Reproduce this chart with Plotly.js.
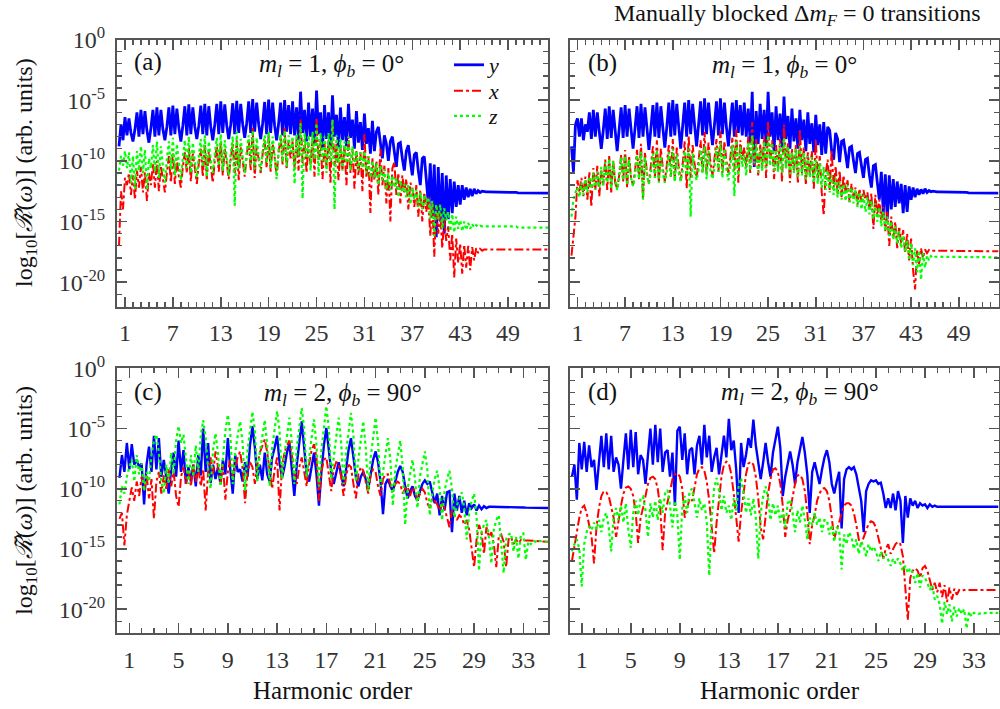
<!DOCTYPE html>
<html>
<head>
<meta charset="utf-8">
<script src="https://cdn.plot.ly/plotly-3.0.1.min.js"></script>
<style>html,body{margin:0;padding:0;background:#fff;}#chart{width:1000px;height:709px;}</style>
</head>
<body>
<div id="chart"></div>
<script>
// Harmonic-order grids (start, step) for the two panel rows
const HARM_TOP_START = 0.25, HARM_TOP_STEP = 0.25;   // panels (a), (b)
const HARM_BOT_START = 0.2,  HARM_BOT_STEP = 0.2;    // panels (c), (d)

// Values are log10 of the spectrum
// Panel (a)
const a_y = [
-8.8,-7.0,-8.3,-6.4,-7.9,-6.5,-7.7,-8.4,
-7.4,-6.0,-8.0,-5.8,-7.8,-5.9,-7.5,-8.5,
-7.3,-5.8,-8.0,-5.6,-7.9,-5.8,-7.4,-8.3,
-7.2,-5.6,-7.9,-5.45,-7.8,-5.7,-7.3,-8.4,
-7.1,-5.5,-7.9,-5.35,-7.8,-5.6,-7.2,-8.2,
-7.1,-5.45,-7.8,-5.3,-7.9,-5.5,-7.2,-8.3,
-7.0,-5.3,-7.8,-5.1,-7.7,-5.35,-7.1,-8.2,
-7.0,-5.25,-7.8,-5.05,-7.7,-5.3,-7.0,-8.1,
-6.9,-5.1,-7.7,-4.9,-7.6,-5.2,-7.0,-8.2,
-6.9,-5.15,-7.8,-4.95,-7.7,-5.2,-7.1,-8.3,
-6.9,-5.2,-7.9,-5.0,-7.6,-5.4,-7.8,-5.1,
-7.9,-5.6,-8.3,-4.3,-7.7,-5.8,-8.4,-5.2,
-8.0,-5.7,-8.6,-4.2,-7.8,-6.0,-9.0,-5.4,
-8.2,-6.0,-8.8,-4.6,-8.0,-6.2,-8.9,-5.6,
-8.3,-6.4,-8.8,-5.3,-8.1,-6.6,-9.0,-5.9,
-8.5,-6.8,-9.1,-6.1,-8.6,-7.3,-9.4,-6.7,
-9.2,-7.6,-7.2,-8.8,-9.8,-7.9,-8.6,-10.0,
-8.4,-8.0,-9.2,-10.5,-8.6,-8.5,-9.8,-10.8,
-9.2,-8.7,-10.0,-11.2,-9.5,-9.3,-10.8,-12.0,
-9.8,-9.65,-11.5,-13.5,-10.2,-14.6,-10.3,-16.3,
-10.5,-15.0,-11.0,-16.0,-11.2,-14.8,-11.5,-14.3,
-11.7,-13.8,-12.0,-13.6,-12.0,-13.2,-12.2,-13.0,
-12.3,-12.9,-12.3,-12.7,-12.45,-12.6,-12.5,-12.55,
-12.56,-12.56,-12.56,-12.56,-12.56,-12.56,-12.56,-12.56,
-12.6,-12.6,-12.6,-12.6,-12.6,-12.6,-12.6,-12.6,
-12.63,-12.63,-12.63,-12.63,-12.63,-12.63,-12.63,-12.63,
-12.66,-12.66,-12.66,-12.66,-12.66,-12.66,-12.66,-12.66
];
const a_x = [
-17.0,-12.5,-14.0,-11.4,-12.0,-11.0,-12.8,-11.2,
-13.2,-10.8,-12.2,-10.5,-12.6,-10.9,-13.3,-11.0,
-12.0,-10.2,-12.2,-10.0,-12.5,-10.4,-11.5,-12.6,
-11.0,-9.6,-11.8,-9.3,-11.9,-9.8,-11.3,-12.2,
-10.5,-9.3,-11.0,-8.9,-11.7,-9.4,-10.6,-11.9,
-10.2,-9.0,-11.3,-8.7,-11.5,-9.2,-10.4,-11.8,
-10.0,-8.8,-10.9,-8.5,-11.2,-9.0,-10.2,-11.5,
-9.8,-8.6,-11.0,-8.3,-11.6,-8.9,-10.0,-11.3,
-9.6,-8.2,-10.8,-7.3,-11.4,-8.7,-9.9,-11.0,
-9.4,-8.3,-10.6,-7.9,-10.9,-8.6,-9.7,-11.2,
-9.3,-8.0,-10.3,-7.2,-10.7,-8.4,-9.8,-8.4,
-10.6,-8.2,-10.8,-6.6,-10.2,-8.3,-11.0,-8.5,
-10.4,-8.1,-11.3,-6.5,-10.0,-8.4,-11.5,-8.6,
-10.5,-8.3,-11.8,-6.6,-10.4,-8.6,-11.6,-8.9,
-10.8,-8.8,-12.0,-8.0,-11.0,-9.0,-12.3,-9.2,
-11.2,-9.3,-12.5,-7.8,-11.4,-9.6,-14.3,-9.8,
-11.6,-10.0,-12.8,-9.0,-12.0,-10.4,-13.5,-10.6,
-15.0,-10.6,-10.1,-12.8,-11.0,-13.5,-11.2,-12.6,
-11.5,-14.0,-11.8,-12.2,-13.8,-12.0,-14.6,-12.4,
-15.0,-12.6,-14.2,-13.0,-16.2,-13.3,-17.9,-13.8,
-16.0,-14.2,-17.2,-14.8,-16.6,-15.4,-18.2,-16.0,
-19.6,-16.4,-18.4,-16.8,-19.3,-16.9,-18.8,-17.0,
-19.0,-17.1,-18.2,-17.2,-17.6,-17.25,-17.4,-17.3,
-17.3,-17.3,-17.3,-17.3,-17.3,-17.3,-17.3,-17.3,
-17.3,-17.3,-17.3,-17.3,-17.3,-17.3,-17.3,-17.3,
-17.3,-17.3,-17.3,-17.3,-17.3,-17.3,-17.3,-17.3,
-17.3,-17.3,-17.3,-17.3,-17.3,-17.3,-17.3,-17.3
];
const a_z = [
-10.8,-9.6,-10.4,-9.2,-10.6,-9.3,-11.8,-9.6,
-12.3,-9.2,-10.8,-8.8,-11.0,-9.1,-12.4,-9.8,
-10.6,-8.7,-10.9,-8.4,-11.4,-8.8,-10.4,-11.8,
-9.9,-8.4,-10.7,-8.1,-11.2,-8.6,-10.2,-11.6,
-9.7,-8.3,-10.6,-8.0,-11.0,-8.5,-10.0,-11.4,
-9.6,-8.2,-10.5,-7.9,-11.3,-8.4,-9.9,-11.0,
-9.5,-8.1,-10.4,-7.8,-10.8,-8.3,-9.8,-11.2,
-9.4,-8.0,-13.7,-7.6,-10.6,-8.2,-9.7,-11.0,
-9.3,-7.9,-10.3,-7.5,-10.7,-8.1,-9.6,-10.8,
-9.2,-7.9,-10.2,-7.6,-10.6,-8.0,-9.5,-11.5,
-9.1,-7.8,-10.1,-7.5,-10.5,-7.9,-9.3,-8.0,
-11.9,-7.8,-9.6,-6.9,-13.1,-7.7,-9.8,-7.9,
-10.8,-7.6,-9.9,-6.9,-11.2,-7.7,-10.0,-8.0,
-11.0,-7.7,-10.1,-6.6,-14.0,-7.9,-10.2,-8.2,
-10.8,-8.4,-10.2,-8.0,-10.8,-8.8,-10.2,-9.2,
-10.8,-9.3,-10.6,-9.2,-11.0,-9.6,-11.4,-10.0,
-11.4,-10.2,-12.0,-10.4,-11.6,-10.7,-12.4,-11.0,
-12.4,-11.2,-12.2,-11.4,-13.0,-11.6,-12.6,-11.9,
-13.0,-12.0,-13.6,-12.2,-13.2,-12.4,-13.8,-12.6,
-14.0,-12.8,-13.6,-13.0,-14.8,-13.3,-16.2,-13.6,
-14.8,-13.6,-15.6,-13.9,-14.9,-14.2,-15.8,-14.4,
-15.9,-14.6,-15.6,-14.9,-15.8,-15.0,-15.7,-15.1,
-15.6,-15.2,-15.5,-15.3,-15.45,-15.35,-15.4,-15.4,
-15.4,-15.4,-15.4,-15.4,-15.4,-15.4,-15.4,-15.4,
-15.4,-15.4,-15.4,-15.4,-15.4,-15.4,-15.4,-15.4,
-15.5,-15.5,-15.5,-15.5,-15.5,-15.5,-15.5,-15.5,
-15.5,-15.5,-15.5,-15.5,-15.5,-15.5,-15.5,-15.5
];
// Panel (b)
const b_y = [
-8.8,-10.9,-7.0,-6.5,-8.0,-6.5,-8.3,-7.0,
-7.6,-6.0,-8.2,-5.8,-8.0,-6.0,-7.6,-9.0,
-7.5,-5.7,-8.2,-5.5,-8.1,-5.8,-7.5,-9.2,
-7.4,-5.6,-8.1,-5.4,-8.0,-5.7,-7.4,-9.0,
-7.3,-5.5,-8.1,-5.3,-8.0,-5.6,-7.3,-9.1,
-7.3,-5.4,-8.0,-5.2,-8.1,-5.5,-7.3,-8.9,
-7.2,-5.2,-8.0,-5.0,-7.9,-5.3,-7.2,-9.0,
-7.1,-5.2,-8.0,-5.0,-7.8,-5.3,-7.1,-8.8,
-7.0,-5.1,-7.9,-4.85,-7.8,-5.2,-7.1,-8.7,
-7.0,-5.1,-7.9,-4.85,-7.8,-5.2,-7.2,-8.8,
-7.0,-5.2,-8.0,-5.0,-7.7,-5.4,-7.9,-5.2,
-8.0,-5.7,-8.5,-4.3,-10.5,-5.9,-8.6,-5.3,
-8.2,-5.8,-8.8,-4.3,-8.0,-6.0,-9.2,-5.5,
-8.3,-6.1,-8.9,-4.7,-8.2,-6.3,-9.0,-5.7,
-8.4,-6.5,-9.0,-5.8,-8.3,-6.6,-9.2,-6.0,
-8.6,-6.9,-9.3,-6.2,-8.7,-7.0,-9.5,-6.8,
-9.4,-7.2,-7.5,-9.2,-9.9,-7.7,-8.2,-10.1,
-8.4,-8.3,-9.4,-10.6,-8.9,-8.8,-10.0,-11.0,
-9.4,-9.3,-10.4,-11.4,-9.9,-9.8,-11.2,-12.2,
-10.4,-10.3,-11.8,-13.2,-10.9,-14.3,-11.1,-14.8,
-11.2,-14.0,-11.5,-13.8,-11.7,-13.5,-11.9,-14.3,
-12.0,-14.2,-12.1,-13.2,-12.2,-13.0,-12.3,-12.8,
-12.35,-12.7,-12.3,-12.6,-12.45,-12.55,-12.5,-12.55,
-12.56,-12.56,-12.56,-12.56,-12.56,-12.56,-12.56,-12.56,
-12.6,-12.6,-12.6,-12.6,-12.6,-12.6,-12.6,-12.6,
-12.63,-12.63,-12.63,-12.63,-12.63,-12.63,-12.63,-12.63,
-12.66,-12.66,-12.66,-12.66,-12.66,-12.66,-12.66,-12.66
];
const b_x = [
-17.8,-16.0,-14.6,-11.6,-12.6,-11.4,-12.9,-11.3,
-13.2,-10.9,-13.8,-10.6,-12.4,-10.4,-12.9,-10.8,
-12.0,-9.9,-12.4,-9.6,-12.6,-10.0,-11.8,-12.3,
-11.2,-9.5,-11.7,-9.1,-12.2,-9.6,-11.4,-12.0,
-10.8,-9.1,-11.5,-8.6,-13.2,-9.3,-11.0,-11.9,
-10.5,-8.8,-11.4,-8.3,-11.8,-9.0,-10.6,-11.7,
-10.3,-8.7,-11.3,-8.2,-11.6,-8.9,-10.5,-11.6,
-10.2,-8.4,-12.3,-7.9,-11.4,-8.7,-10.3,-11.4,
-10.0,-8.3,-11.0,-7.6,-11.2,-8.5,-10.2,-11.2,
-9.8,-8.2,-10.9,-7.5,-11.0,-8.4,-10.0,-11.0,
-9.7,-8.1,-10.8,-7.4,-11.8,-8.3,-9.9,-8.9,
-10.6,-8.0,-11.0,-6.8,-10.4,-8.2,-11.2,-8.6,
-10.6,-8.0,-11.4,-6.8,-10.2,-8.3,-11.5,-8.7,
-10.7,-8.2,-11.7,-7.0,-10.6,-8.5,-11.8,-9.0,
-10.9,-8.7,-11.9,-7.4,-11.0,-8.9,-12.0,-9.3,
-11.2,-9.2,-12.3,-8.3,-11.5,-9.6,-12.6,-14.5,
-11.0,-9.9,-12.4,-9.1,-12.2,-10.4,-12.8,-10.8,
-13.0,-11.2,-12.6,-11.6,-13.4,-11.9,-13.0,-12.2,
-13.6,-12.3,-13.4,-12.4,-13.2,-12.6,-14.0,-12.7,
-15.6,-12.8,-14.5,-13.2,-15.0,-13.8,-15.8,-14.2,
-17.0,-14.6,-16.4,-15.0,-17.2,-15.4,-16.8,-15.7,
-17.6,-16.0,-18.2,-16.4,-19.0,-20.6,-17.4,-18.5,
-17.2,-18.0,-17.3,-17.6,-17.35,-17.45,-17.4,-17.4,
-17.4,-17.4,-17.4,-17.4,-17.4,-17.4,-17.4,-17.4,
-17.4,-17.4,-17.4,-17.4,-17.4,-17.4,-17.4,-17.4,
-17.45,-17.45,-17.45,-17.45,-17.45,-17.45,-17.45,-17.45,
-17.45,-17.45,-17.45,-17.45,-17.45,-17.45,-17.45,-17.45
];
const b_z = [
-14.6,-13.2,-12.6,-12.2,-13.0,-11.8,-12.8,-11.5,
-12.6,-11.3,-12.3,-11.0,-12.4,-10.9,-12.2,-10.5,
-12.0,-10.1,-11.8,-9.8,-12.3,-10.0,-11.6,-12.4,
-11.4,-9.7,-11.6,-9.6,-12.0,-9.9,-11.4,-12.1,
-11.2,-9.5,-11.5,-9.25,-13.2,-9.7,-11.2,-11.9,
-11.0,-9.4,-11.4,-9.1,-11.8,-9.6,-11.1,-11.8,
-10.9,-9.3,-11.3,-9.0,-11.7,-9.5,-11.0,-11.7,
-10.8,-9.2,-11.2,-9.0,-14.6,-9.4,-10.9,-11.6,
-10.7,-9.1,-11.0,-8.8,-11.5,-9.2,-10.8,-11.5,
-10.5,-8.9,-10.9,-8.5,-11.4,-9.0,-10.7,-11.6,
-10.4,-8.7,-12.9,-8.3,-11.2,-8.8,-10.5,-9.5,
-11.2,-8.5,-10.8,-7.9,-10.2,-8.6,-11.0,-9.0,
-10.8,-8.4,-10.6,-7.9,-10.4,-8.5,-10.8,-9.1,
-10.9,-8.6,-11.0,-8.1,-10.6,-8.8,-11.1,-9.3,
-11.0,-9.0,-11.3,-8.8,-11.2,-9.3,-11.5,-9.6,
-11.4,-9.7,-11.8,-9.9,-11.9,-10.2,-12.2,-10.5,
-12.4,-10.8,-12.6,-11.2,-12.8,-11.4,-13.0,-11.7,
-13.2,-11.9,-13.3,-12.0,-13.4,-12.2,-13.5,-12.4,
-13.8,-12.6,-14.0,-12.8,-14.2,-13.0,-14.4,-13.3,
-14.8,-13.5,-15.0,-13.8,-15.4,-14.2,-15.8,-14.6,
-16.2,-15.0,-16.5,-15.4,-16.8,-15.8,-17.2,-16.2,
-17.5,-16.6,-18.2,-16.8,-18.6,-17.2,-19.2,-17.4,
-19.8,-17.6,-18.8,-17.8,-18.2,-17.85,-18.0,-17.9,
-17.9,-17.9,-17.9,-17.9,-17.9,-17.9,-17.9,-17.9,
-17.9,-17.9,-17.9,-17.9,-17.9,-17.9,-17.9,-17.9,
-17.95,-17.95,-17.95,-17.95,-17.95,-17.95,-17.95,-17.95,
-17.95,-17.95,-17.95,-17.95,-17.95,-17.95,-17.95,-17.95
];
// Panel (c)
const c_y = [
-9.1,-7.2,-8.6,-6.2,-8.4,  -6.3,-8.0,-7.6,-8.2,-7.9,
-11.3,-8.0,-6.5,-8.6,-5.6, -8.4,-5.8,-9.0,-7.6,-9.2,
-10.4,-8.4,-7.0,-9.0,-6.0, -8.6,-6.8,-9.6,-8.2,-9.4,
-8.0,-9.8,-7.2,-8.9,-5.0,  -8.6,-6.2,-9.5,-8.0,-9.2,
-8.2,-9.6,-7.6,-8.8,-5.8,  -8.4,-10.4,-7.2,-8.6,-8.4,
-9.4,-7.8,-9.0,-6.4,-4.8,  -6.6,-9.2,-8.0,-9.3,-7.0,
-8.8,-9.4,-7.4,-6.6,-5.6,  -7.8,-9.1,-8.2,-7.0,-6.2,
-8.4,-10.6,-8.0,-6.4,-4.4, -6.6,-8.8,-9.4,-8.0,-7.0,
-8.8,-11.4,-8.6,-6.4,-4.95,-6.6,-8.6,-9.6,-8.6,-7.8,
-8.8,-9.8,-8.4,-6.8,-5.8,  -7.2,-9.0,-9.8,-9.0,-8.6,
-9.2,-10.0,-8.8,-7.6,-6.9, -7.8,-9.4,-12.1,-9.6,-9.2,
-9.8,-10.2,-9.4,-8.6,-8.1, -8.6,-9.8,-10.8,-10.2,-9.8,
-10.6,-11.0,-10.2,-9.6,-9.3,-9.6,-9.4,-10.4,-11.2,-10.4,
-12.2,-10.6,-11.8,-10.3,-10.2,-13.6,-10.4,-11.8,-10.6,-12.0,
-11.0,-12.2,-11.2,-11.6,-11.3,-11.8,-11.4,-11.7,-11.45,-11.6,
-11.5,-11.5,-11.5,-11.5,-11.5,-11.52,-11.52,-11.52,-11.52,-11.52,
-11.55,-11.55,-11.55,-11.55,-11.55,-11.57,-11.57,-11.57,-11.57,-11.57,
-11.6,-11.6,-11.6,-11.6,-11.6
];
const c_x = [
-12.5,-12.0,-14.7,-12.2,-11.0, -9.9,-11.0,-9.4,-10.6,-9.0,
-10.2,-8.8,-10.8,-9.2,-12.5,   -9.4,-8.6,-10.4,-8.9,-10.0,
-8.4,-9.8,-8.6,-10.6,-11.5,    -9.0,-8.2,-9.6,-8.4,-9.8,
-8.0,-9.4,-8.2,-9.8,-8.4,      -11.8,-8.6,-7.4,-8.8,-6.9,
-8.2,-9.6,-8.0,-10.9,-8.6,     -7.6,-9.0,-8.2,-7.4,-6.9,
-8.4,-11.2,-8.6,-7.8,-8.2,     -9.6,-8.0,-7.0,-6.4,-5.9,
-7.0,-8.6,-10.0,-8.4,-7.4,     -11.8,-8.2,-7.0,-6.4,-6.0,
-7.2,-8.8,-9.6,-8.2,-7.4,      -8.6,-9.8,-8.0,-6.8,-6.3,
-7.4,-11.0,-8.6,-7.6,-7.4,     -8.8,-10.2,-8.4,-7.8,-7.9,
-9.0,-10.6,-9.0,-8.0,-8.2,     -9.6,-10.8,-8.8,-8.2,-8.5,
-9.4,-10.4,-8.8,-8.4,-8.6,     -9.8,-10.6,-9.2,-8.8,-8.8,
-9.6,-10.2,-9.6,-9.4,-9.6,     -10.4,-10.0,-9.8,-10.6,-9.9,
-10.2,-11.0,-10.4,-10.0,-10.3, -11.2,-11.6,-10.8,-11.0,-11.3,
-11.8,-11.2,-11.6,-12.4,-13.2, -11.8,-12.2,-12.6,-12.2,-12.4,
-13.0,-12.6,-13.4,-15.0,-16.5, -14.2,-13.0,-13.6,-15.4,-13.2,
-14.0,-13.6,-14.6,-16.5,-14.0, -13.8,-14.4,-16.5,-14.2,-14.0,
-14.6,-14.2,-14.5,-14.25,-14.3,
-14.3,-14.3,-14.32,-14.32,-14.35,-14.35,-14.35,-14.38,-14.38,-14.4
];
const c_z = [
-11.3,-9.8,-10.4,-9.0,-8.2,  -7.6,-9.4,-7.2,-8.8,-7.9,
-10.2,-8.6,-9.4,-7.2,-6.0,   -5.5,-7.0,-9.4,-10.4,-8.0,
-9.6,-7.0,-8.8,-6.0,-4.8,    -6.2,-5.5,-7.6,-9.6,-7.2,
-9.0,-6.4,-8.6,-5.6,-4.3,    -5.8,-8.4,-10.0,-6.8,-5.4,
-7.0,-9.8,-7.2,-5.2,-3.85,   -5.4,-9.6,-7.0,-5.6,-4.4,
-6.2,-10.2,-6.8,-5.0,-3.6,   -5.2,-9.4,-7.0,-5.8,-4.3,
-6.4,-9.8,-6.6,-5.0,-3.55,   -5.2,-9.2,-7.2,-5.6,-4.1,
-6.2,-9.6,-6.6,-4.8,-3.3,    -5.0,-9.0,-7.4,-5.8,-4.25,
-6.4,-9.8,-6.8,-4.8,-3.15,   -5.0,-9.2,-7.4,-5.6,-4.1,
-6.2,-9.6,-7.0,-5.4,-3.7,    -5.6,-9.4,-7.6,-6.0,-4.4,
-6.6,-10.2,-7.4,-5.6,-4.1,   -6.2,-9.8,-8.6,-7.0,-5.8,
-7.6,-11.4,-8.4,-7.0,-6.0,   -8.2,-13.0,-10.0,-8.6,-7.6,
-9.2,-11.6,-9.0,-7.8,-6.9,   -8.4,-12.2,-10.4,-9.2,-8.5,
-10.0,-12.6,-10.2,-9.2,-8.5, -10.0,-12.4,-11.4,-10.8,-10.3,
-11.6,-14.2,-12.0,-11.0,-10.4,-12.4,-16.8,-13.6,-13.0,-12.6,
-14.0,-16.2,-13.4,-12.6,-12.2,-14.8,-17.0,-14.2,-13.8,-13.7,
-15.2,-14.0,-15.8,-13.8,-13.7,-15.9,-14.4,-14.6,-14.3,-14.4,
-14.3,-14.35,-14.35,-14.4,-14.4
];
// Panel (d)
const d_y = [
-9.0,-8.0,-10.9,-6.2,-8.4,  -6.1,-8.6,-6.4,-8.2,-7.6,
-10.1,-7.8,-5.6,-8.2,-5.4,  -8.4,-5.6,-8.6,-7.4,-8.0,
-10.0,-7.6,-5.4,-8.4,-5.1,  -8.2,-5.3,-8.8,-7.2,-7.6,
-9.6,-7.2,-5.0,-8.0,-4.7,   -7.8,-5.0,-8.6,-7.0,-6.8,
-9.0,-7.0,-11.4,-5.2,-4.85, -7.6,-5.4,-8.8,-6.8,-6.6,
-8.8,-6.4,-5.6,-8.0,-4.7,   -7.4,-5.6,-8.6,-7.4,-6.6,
-8.8,-7.2,-5.6,-7.4,-4.2,   -6.8,-6.0,-8.4,-12.0,-6.2,
-8.2,-7.2,-5.8,-6.6,-4.25,  -6.4,-8.0,-9.2,-7.8,-6.2,
-7.8,-9.0,-7.0,-6.0,-4.85,  -6.6,-10.6,-9.0,-7.8,-6.9,
-8.0,-9.6,-7.8,-6.6,-5.7,   -7.0,-8.8,-12.0,-8.6,-7.8,
-8.6,-9.6,-8.4,-7.4,-6.8,   -7.8,-9.6,-10.4,-9.4,-8.6,
-13.3,-9.2,-8.4,-8.2,-8.4,  -8.2,-8.8,-10.0,-11.0,-13.6,
-10.2,-9.6,-9.3,-9.4,-9.3,  -9.6,-9.5,-10.4,-11.6,-10.8,
-11.6,-10.4,-11.8,-10.2,-11.0,-14.5,-10.6,-12.4,-10.8,-11.4,
-11.0,-11.6,-11.2,-11.4,-11.3,-11.6,-11.3,-11.5,-11.4,-11.5,
-11.5,-11.5,-11.5,-11.5,-11.5,-11.5,-11.5,-11.5,-11.5,-11.5,
-11.5,-11.5,-11.5,-11.5,-11.5,-11.5,-11.5,-11.5,-11.5,-11.5,
-11.5,-11.5,-11.5,-11.5,-11.5
];
const d_x = [
-16.0,-14.8,-13.6,-12.4,-11.6, -11.4,-12.0,-13.0,-14.0,-16.2,
-13.2,-11.6,-10.6,-10.2,-10.3, -10.6,-11.4,-12.4,-14.0,-12.6,
-11.4,-10.4,-9.9,-9.8,-10.0,   -10.6,-12.0,-14.5,-12.4,-11.6,
-10.6,-9.6,-9.1,-9.0,-9.2,     -10.0,-11.6,-15.1,-12.0,-11.2,
-10.2,-9.2,-8.8,-8.7,-9.0,     -10.0,-12.4,-11.6,-10.8,-11.0,
-10.0,-8.8,-8.3,-8.2,-8.5,     -9.4,-11.0,-13.2,-15.35,-12.8,
-10.6,-9.0,-8.0,-7.75,-7.9,    -8.8,-10.4,-12.6,-14.4,-12.0,
-10.2,-8.8,-7.9,-7.75,-8.0,    -9.0,-10.8,-13.2,-14.2,-12.2,
-10.4,-9.2,-8.4,-8.3,-8.6,     -9.6,-11.4,-14.0,-12.6,-11.8,
-10.6,-9.6,-8.9,-8.85,-9.2,    -10.2,-12.0,-14.6,-13.0,-12.2,
-11.0,-10.4,-10.0,-9.95,-10.2, -11.0,-12.4,-14.2,-13.4,-12.8,
-12.0,-11.4,-11.2,-11.2,-11.4, -12.0,-13.0,-14.2,-14.6,-14.0,
-13.4,-12.9,-12.7,-12.8,-13.2, -14.0,-15.0,-15.8,-15.0,-14.6,
-15.4,-15.0,-14.6,-14.4,-14.6, -15.6,-18.0,-20.9,-17.4,-16.8,
-16.6,-16.8,-17.4,-16.6,-16.4, -16.8,-17.6,-18.4,-17.8,-18.6,
-17.8,-19.0,-18.0,-19.4,-18.2, -19.2,-18.3,-18.8,-18.4,-18.5,
-18.4,-18.4,-18.4,-18.4,-18.4,-18.4,-18.4,-18.4,-18.4,-18.4,
-18.4,-18.4,-18.4,-18.4,-18.4
];
const d_z = [
-15.2,-14.6,-14.2,-15.0,-18.1, -14.6,-13.6,-13.1,-13.4,-12.8,
-13.4,-12.6,-13.6,-12.4,-12.0, -13.2,-15.2,-12.4,-11.6,-12.6,
-11.4,-12.8,-11.2,-13.4,-14.9, -12.0,-11.0,-12.2,-10.8,-10.65,
-11.8,-14.0,-11.2,-12.4,-11.0, -12.6,-10.8,-12.0,-10.4,-10.1,
-11.4,-13.2,-11.0,-12.2,-15.9, -11.6,-10.6,-12.0,-10.2,-10.0,
-11.2,-12.4,-10.8,-11.8,-11.2, -12.8,-17.2,-12.4,-10.0,-9.1,
-10.2,-11.8,-10.6,-12.0,-11.4, -12.6,-10.8,-11.8,-9.8,-9.1,
-10.4,-12.0,-10.8,-12.2,-10.8, -12.4,-15.8,-12.0,-10.6,-9.8,
-10.8,-12.6,-11.2,-12.2,-11.4, -12.8,-11.8,-13.2,-11.2,-10.9,
-12.0,-13.6,-11.8,-12.8,-11.4, -12.6,-14.2,-12.4,-13.0,-12.0,
-13.0,-12.4,-13.6,-12.6,-12.6, -13.8,-13.0,-14.4,-13.2,-13.4,
-16.7,-13.8,-14.6,-13.6,-14.0, -15.0,-14.2,-15.4,-14.4,-14.8,
-15.6,-14.6,-15.2,-14.8,-15.2, -16.0,-15.2,-15.8,-15.4,-15.9,
-16.4,-15.8,-16.2,-15.8,-16.2, -16.8,-16.4,-17.0,-16.6,-17.0,
-17.8,-17.0,-18.2,-17.2,-17.4, -17.8,-18.4,-18.0,-19.2,-18.9,
-19.6,-21.2,-19.4,-20.4,-19.6, -21.0,-19.8,-20.6,-19.9,-20.4,
-20.0,-21.6,-20.2,-20.6,-20.3,
-20.3,-20.4,-20.3,-20.35,-20.3,-20.3,-20.3,-20.3,-20.3,-20.3
];

// Tick values / labels
const topTicks = [1,7,13,19,25,31,37,43,49];
const botTicks = [1,5,9,13,17,21,25,29,33];
const yTickVals = [-20,-15,-10,-5,0];
const yTickText = ['10<sup>-20</sup>','10<sup>-15</sup>','10<sup>-10</sup>','10<sup>-5</sup>','10<sup>0</sup>'];

const F = 'Liberation Serif';
const BLUE = '#0000ff', RED = '#ff0000', GREEN = '#00ff00';

function tr(vals, x0, dx, ax, color, dash, width, name, legend) {
  const t = {
    type: 'scatter', mode: 'lines', y: vals, x0: x0, dx: dx,
    xaxis: 'x' + ax, yaxis: 'y' + ax,
    line: {color: color, dash: dash, width: width},
    name: name, showlegend: !!legend, hoverinfo: 'skip'
  };
  if (legend) t.legend = legend;
  return t;
}

const data = [
  tr(a_y, HARM_TOP_START, HARM_TOP_STEP, '', BLUE, 'solid', 2.8, '<i>y</i>', 'legend'),
  tr(a_x, HARM_TOP_START, HARM_TOP_STEP, '', RED, 'dashdot', 2, '<i>x</i>', 'legend2'),
  tr(a_z, HARM_TOP_START, HARM_TOP_STEP, '', GREEN, 'dot', 2.2, '<i>z</i>', 'legend3'),
  tr(b_y, HARM_TOP_START, HARM_TOP_STEP, '2', BLUE, 'solid', 2.8, 'y', null),
  tr(b_x, HARM_TOP_START, HARM_TOP_STEP, '2', RED, 'dashdot', 2, 'x', null),
  tr(b_z, HARM_TOP_START, HARM_TOP_STEP, '2', GREEN, 'dot', 2.2, 'z', null),
  tr(c_y, HARM_BOT_START, HARM_BOT_STEP, '3', BLUE, 'solid', 2.4, 'y', null),
  tr(c_x, HARM_BOT_START, HARM_BOT_STEP, '3', RED, 'dashdot', 2, 'x', null),
  tr(c_z, HARM_BOT_START, HARM_BOT_STEP, '3', GREEN, 'dot', 2.2, 'z', null),
  tr(d_y, HARM_BOT_START, HARM_BOT_STEP, '4', BLUE, 'solid', 2.4, 'y', null),
  tr(d_x, HARM_BOT_START, HARM_BOT_STEP, '4', RED, 'dashdot', 2, 'x', null),
  tr(d_z, HARM_BOT_START, HARM_BOT_STEP, '4', GREEN, 'dot', 2.2, 'z', null)
];

const FRAME = '#555555';
function xAxis(domain, range, ticks, anchor) {
  return {
    domain: domain, range: range, anchor: anchor,
    showline: true, linecolor: FRAME, linewidth: 2, mirror: 'ticks',
    ticks: 'inside', ticklen: 10, tickwidth: 1.5, tickcolor: FRAME,
    tickmode: 'array', tickvals: ticks, ticktext: ticks.map(String),
    ticklabelstandoff: 4,
    minor: {ticks: 'inside', ticklen: 5, tickwidth: 1.3, tickcolor: FRAME, tickmode: 'linear', tick0: 0, dtick: 1, showgrid: false},
    showgrid: false, zeroline: false,
    tickfont: {family: F, size: 24, color: '#333'}
  };
}
function yAxis(domain, anchor, showLabels) {
  return {
    domain: domain, range: [-22, 0], anchor: anchor,
    showline: true, linecolor: FRAME, linewidth: 2, mirror: 'ticks',
    ticks: 'inside', ticklen: 10, tickwidth: 1.5, tickcolor: FRAME,
    tickmode: 'array', tickvals: yTickVals, ticktext: yTickText,
    showticklabels: showLabels, ticklabelstandoff: 5,
    minor: {ticks: 'inside', ticklen: 5, tickwidth: 1.3, tickcolor: FRAME, tickmode: 'linear', tick0: 0, dtick: 1, showgrid: false},
    showgrid: false, zeroline: false,
    tickfont: {family: F, size: 24, color: '#333'}
  };
}

const P = v => 1 - v / 709;
const topDom = [P(306.5), P(39.5)];
const botDom = [P(633.3), P(368.3)];
const leftDom = [0.117, 0.548];
const rightDom = [0.5695, 0.9985];

function ann(text, x, y, size, extra) {
  return Object.assign({text: text, x: x, y: y, xref: 'paper', yref: 'paper', showarrow: false,
    xanchor: 'center', yanchor: 'middle', font: {family: F, size: size, color: '#111'}}, extra || {});
}
function leg(yc) {
  return {x: 0.449, y: P(yc), xanchor: 'left', yanchor: 'middle', bgcolor: 'rgba(0,0,0,0)',
          font: {family: F, size: 22, color: '#111'}, itemwidth: 30};
}
const ytitle = 'log<sub>10</sub>[<i>ℛ̃</i>(<i>ω</i>)] (arb. units)';

const layout = {
  width: 1000, height: 709,
  margin: {l: 0, r: 0, t: 0, b: 0},
  paper_bgcolor: '#fff', plot_bgcolor: '#fff',
  showlegend: true,
  legend: leg(65),
  legend2: leg(91),
  legend3: leg(116),
  xaxis: xAxis(leftDom, [0, 54], topTicks, 'y'),
  yaxis: yAxis(topDom, 'x', true),
  xaxis2: xAxis(rightDom, [0, 54], topTicks, 'y2'),
  yaxis2: yAxis(topDom, 'x2', false),
  xaxis3: xAxis(leftDom, [0, 35], botTicks, 'y3'),
  yaxis3: yAxis(botDom, 'x3', true),
  xaxis4: xAxis(rightDom, [0, 35], botTicks, 'y4'),
  yaxis4: yAxis(botDom, 'x4', false),
  annotations: [
    ann('Manually blocked Δ<i>m</i><sub><i>F</i></sub> = 0 transitions', 0.7975, P(15), 24),
    ann(ytitle, 0.026, P(173), 24, {textangle: -90}),
    ann(ytitle, 0.026, P(500.8), 24, {textangle: -90}),
    ann('Harmonic order', 0.3325, P(690), 25),
    ann('Harmonic order', 0.78, P(690), 25),
    ann('(a)', 0.148, P(62.5), 25),
    ann('(b)', 0.6025, P(63), 25),
    ann('(c)', 0.148, P(391.5), 25),
    ann('(d)', 0.6025, P(391.5), 25),
    ann('<i>m</i><sub><i>l</i></sub> = 1, <i>ϕ</i><sub><i>b</i></sub> = 0°', 0.331, P(66), 25),
    ann('<i>m</i><sub><i>l</i></sub> = 1, <i>ϕ</i><sub><i>b</i></sub> = 0°', 0.784, P(67), 25),
    ann('<i>m</i><sub><i>l</i></sub> = 2, <i>ϕ</i><sub><i>b</i></sub> = 90°', 0.343, P(394), 25),
    ann('<i>m</i><sub><i>l</i></sub> = 2, <i>ϕ</i><sub><i>b</i></sub> = 90°', 0.800, P(393), 25)
  ]
};

Plotly.newPlot('chart', data, layout, {staticPlot: true, displayModeBar: false});
</script>
</body>
</html>
